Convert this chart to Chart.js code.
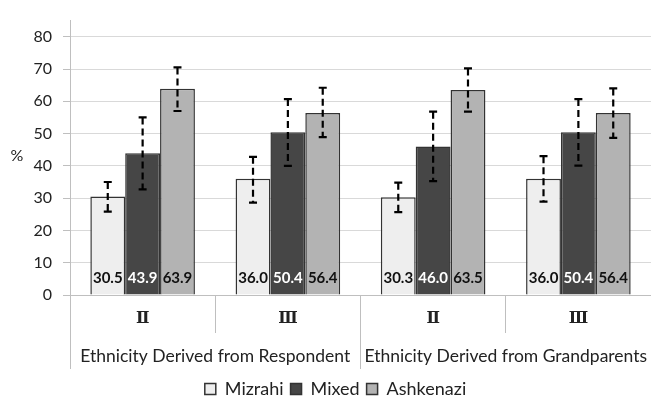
<!DOCTYPE html>
<html>
<head>
<meta charset="utf-8">
<script src="https://cdn.jsdelivr.net/npm/chart.js@4.4.1/dist/chart.umd.min.js"></script>
<style>
  body { margin: 0; background: #fff; }
  #wrap { width: 651px; height: 408px; }
</style>
</head>
<body>
<div id="wrap"><canvas id="myChart"></canvas></div>
<script>
// categories on the x-axis, and the outer grouping
var subLabels = ["Ⅱ", "Ⅲ", "Ⅱ", "Ⅲ"];
var groupLabels = ["Ethnicity Derived from Respondent", "Ethnicity Derived from Grandparents"];

// bar heights (%)
var mizrahi = [30.5, 36.0, 30.3, 36.0];
var mixed = [43.9, 50.4, 46.0, 50.4];
var ashkenazi = [63.9, 56.4, 63.5, 56.4];

// error bar ends
var mizrahiLow = [25.8, 28.6, 25.7, 28.9];
var mizrahiHigh = [35.0, 42.8, 34.8, 43.0];
var mixedLow = [32.7, 40.0, 35.3, 40.1];
var mixedHigh = [55.0, 60.7, 56.8, 60.7];
var ashkenaziLow = [57.0, 48.9, 56.8, 48.7];
var ashkenaziHigh = [70.5, 64.2, 70.2, 64.0];

var yTicks = [0, 10, 20, 30, 40, 50, 60, 70, 80];

var FONT = "Lato, 'Open Sans', sans-serif";

// dashed error bars with caps
var errorBars = {
  id: "errorBars",
  afterDatasetsDraw: function (chart) {
    var ctx = chart.ctx;
    var y = chart.scales.y;
    chart.data.datasets.forEach(function (ds, i) {
      var meta = chart.getDatasetMeta(i);
      meta.data.forEach(function (bar, j) {
        var top = y.getPixelForValue(ds.errHigh[j]);
        var bot = y.getPixelForValue(ds.errLow[j]);
        ctx.save();
        ctx.strokeStyle = "#000";
        ctx.lineWidth = 2.2;
        ctx.setLineDash([7, 4]);
        ctx.beginPath();
        ctx.moveTo(bar.x, top);
        ctx.lineTo(bar.x, bot);
        ctx.stroke();
        ctx.setLineDash([]);
        ctx.beginPath();
        ctx.moveTo(bar.x - 4, top); ctx.lineTo(bar.x + 4, top);
        ctx.moveTo(bar.x - 4, bot); ctx.lineTo(bar.x + 4, bot);
        ctx.stroke();
        ctx.restore();
      });
    });
  }
};

// value text at the foot of each bar, plus the "%" axis label
var barText = {
  id: "barText",
  afterDatasetsDraw: function (chart) {
    var ctx = chart.ctx;
    var y = chart.scales.y;
    var base = y.getPixelForValue(0);
    chart.data.datasets.forEach(function (ds, i) {
      var meta = chart.getDatasetMeta(i);
      meta.data.forEach(function (bar, j) {
        ctx.save();
        ctx.font = "bold 15px " + FONT;
        ctx.fillStyle = ds.textColor;
        ctx.textAlign = "center";
        ctx.textBaseline = "middle";
        ctx.fillText(ds.data[j].toFixed(1), bar.x, base - 16.5);
        ctx.restore();
      });
    });
    ctx.save();
    ctx.font = "16px " + FONT;
    ctx.fillStyle = "#222";
    ctx.textAlign = "center";
    ctx.textBaseline = "middle";
    ctx.fillText("%", 17, y.getPixelForValue(40) - 10);
    ctx.restore();
  }
};

var ctx = document.getElementById("myChart");
var myChart = new Chart(ctx, {
  type: "bar",
  data: {
    labels: subLabels,
    datasets: [
      {
        label: "Mizrahi",
        data: mizrahi,
        errLow: mizrahiLow,
        errHigh: mizrahiHigh,
        backgroundColor: "#eeeeee",
        borderColor: "#333333",
        textColor: "#111",
        borderWidth: 1.5
      },
      {
        label: "Mixed",
        data: mixed,
        errLow: mixedLow,
        errHigh: mixedHigh,
        backgroundColor: "#464646",
        borderColor: "#333333",
        textColor: "#fff",
        borderWidth: 1.5
      },
      {
        label: "Ashkenazi",
        data: ashkenazi,
        errLow: ashkenaziLow,
        errHigh: ashkenaziHigh,
        backgroundColor: "#b3b3b3",
        borderColor: "#333333",
        textColor: "#111",
        borderWidth: 1.5
      }
    ]
  },
  options: {
    responsive: true,
    maintainAspectRatio: false,
    animation: false,
    layout: { padding: { left: 20, right: 0, top: 5, bottom: 0 } },
    datasets: { bar: { categoryPercentage: 0.72, barPercentage: 1 } },
    plugins: {
      tooltip: { enabled: false },
      legend: {
        position: "bottom",
        labels: {
          font: { family: FONT, size: 18, lineHeight: 1 },
          color: "#222",
          boxWidth: 11,
          boxHeight: 11,
          padding: 7
        }
      }
    },
    scales: {
      y: {
        min: 0,
        max: 85,
        afterBuildTicks: function (s) {
          s.ticks = yTicks.map(function (v) { return { value: v }; });
        },
        afterFit: function (s) { s.width = 50; },
        ticks: { font: { family: FONT, size: 16 }, color: "#222", padding: 11 },
        grid: {
          color: "#d9d9d9",
          tickColor: "#bfbfbf",
          tickLength: 7
        },
        border: { color: "#bfbfbf" }
      },
      x: {
        weight: 1,
        offset: true,
        afterFit: function (s) { s.height = 38; s.paddingLeft = 0; s.paddingRight = 0; },
        ticks: {
          font: { family: "'DejaVu Serif', serif", size: 16, weight: "bold" },
          color: "#222",
          padding: -24,
          maxRotation: 0,
          minRotation: 0,
          autoSkip: false
        },
        grid: { offset: true, drawOnChartArea: false, tickLength: 38, color: "#bfbfbf" },
        border: { color: "#bfbfbf" }
      },
      group: {
        type: "category",
        labels: groupLabels,
        position: "bottom",
        weight: 2,
        offset: true,
        afterFit: function (s) { s.height = 40; s.paddingLeft = 0; s.paddingRight = 0; },
        ticks: {
          font: { family: FONT, size: 17.5 },
          color: "#222",
          padding: -23,
          maxRotation: 0,
          minRotation: 0,
          autoSkip: false
        },
        grid: { offset: true, drawOnChartArea: false, tickLength: 36, color: "#bfbfbf" },
        border: { display: false }
      }
    }
  },
  plugins: [errorBars, barText]
});
</script>
</body>
</html>
